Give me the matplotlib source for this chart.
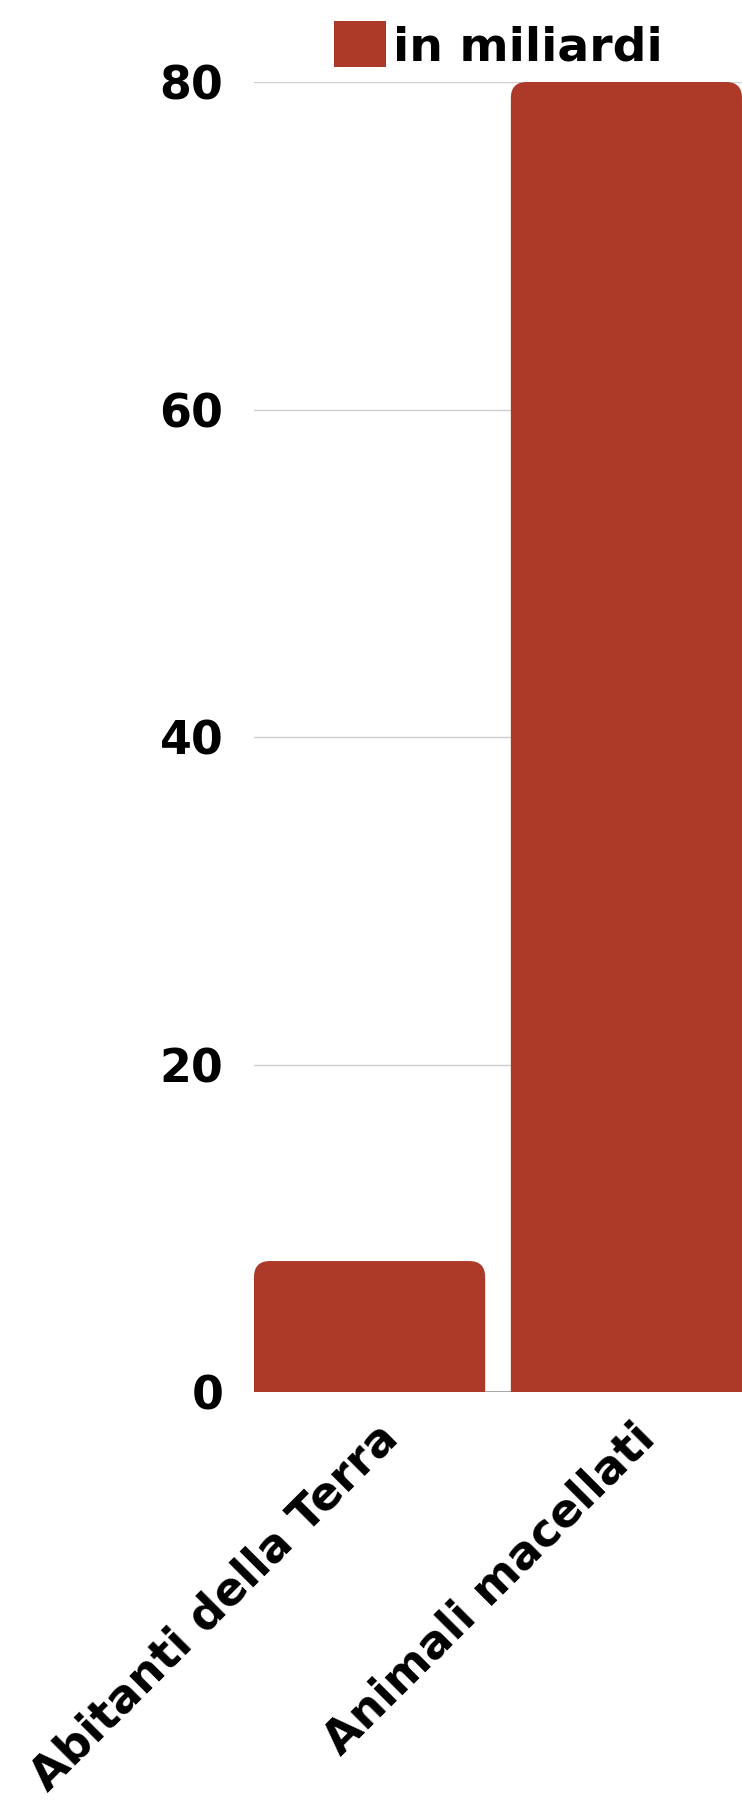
import matplotlib
matplotlib.use("Agg")
import matplotlib.pyplot as plt
import matplotlib.transforms as mtransforms
from matplotlib.patches import FancyBboxPatch, Patch

categories = ["Abitanti della Terra", "Animali macellati"]
values = [8, 80]
series_name = "in miliardi"
yticks = [0, 20, 40, 60, 80]

bar_color = "#ad3a28"
font = {"family": "DejaVu Sans", "weight": "heavy"}

fig = plt.figure(figsize=(7.42, 18.02), dpi=100)
ax = fig.add_axes([0.3423, 0.2275, 0.6577, 0.7270])

bars = ax.bar(range(len(categories)), values, width=0.9, color="none")
ax.set_xlim(-0.45, 1.45)
ax.set_ylim(0, 80)

# rounded top corners, bottom hidden below the axis
rx, ry = 0.062, 0.98
for rect in bars.patches:
    x, w, h = rect.get_x(), rect.get_width(), rect.get_height()
    p = FancyBboxPatch((x, -2 * ry), w, h + 2 * ry,
                       boxstyle=f"round,pad=0,rounding_size={rx}",
                       mutation_aspect=ry / rx,
                       facecolor=bar_color, edgecolor="none", zorder=3)
    ax.add_patch(p)

ax.set_yticks(yticks)
ax.set_yticklabels([str(t) for t in yticks], fontsize=33, **font)
ax.tick_params(axis="y", length=0, pad=22)
ax.set_xticks(range(len(categories)))
ax.set_xticklabels(categories, fontsize=33, rotation=45, ha="right",
                   rotation_mode="anchor", **font)
ax.tick_params(axis="x", length=0, pad=17)
shift = mtransforms.ScaledTranslation(0.06, 0, fig.dpi_scale_trans)
for lbl in ax.get_xticklabels():
    lbl.set_transform(lbl.get_transform() + shift)

for t in yticks[1:]:
    ax.axhline(t, color="#d0d0d0", linewidth=1, zorder=1)
ax.axhline(0, color="#999999", linewidth=1.2, zorder=2)

for s in ax.spines.values():
    s.set_visible(False)

leg = ax.legend(handles=[Patch(facecolor=bar_color, label=series_name)],
                loc="lower center", bbox_to_anchor=(0.5, 1.0),
                frameon=False, prop={"size": 34, "weight": "heavy"},
                handlelength=1.1, handleheight=1.1, handletextpad=0.15,
                borderpad=0, borderaxespad=0.25)

fig.savefig("out.png", dpi=100)
